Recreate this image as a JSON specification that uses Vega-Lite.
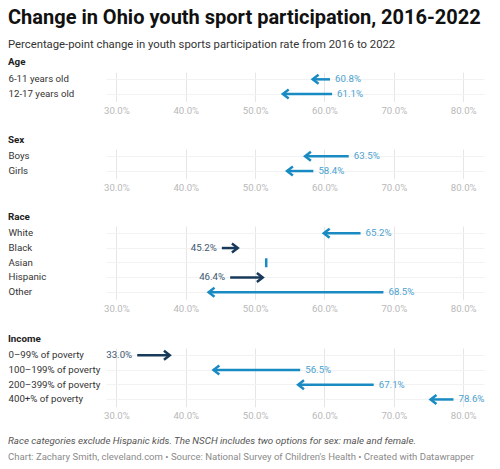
{
  "$schema": "https://vega.github.io/schema/vega-lite/v6.json",
  "padding": {"left": 8, "top": 7, "right": 10, "bottom": 4},
  "background": "white",
  "title": {
    "text": "Change in Ohio youth sport participation, 2016-2022",
    "subtitle": "Percentage-point change in youth sports participation rate from 2016 to 2022",
    "anchor": "start",
    "frame": "bounds",
    "font": "Roboto",
    "fontSize": 20,
    "fontWeight": "bold",
    "color": "#111111",
    "subtitleFont": "Roboto",
    "subtitleFontSize": 11.3,
    "subtitleColor": "#333333",
    "subtitlePadding": 11,
    "offset": 7
  },
  "data": {
    "values": [
      {"group": "Age", "category": "6-11 years old", "start": 0.608, "end": 0.583, "change": "down"},
      {"group": "Age", "category": "12-17 years old", "start": 0.611, "end": 0.540, "change": "down"},
      {"group": "Sex", "category": "Boys", "start": 0.635, "end": 0.572, "change": "down"},
      {"group": "Sex", "category": "Girls", "start": 0.584, "end": 0.546, "change": "down"},
      {"group": "Race", "category": "White", "start": 0.652, "end": 0.599, "change": "down"},
      {"group": "Race", "category": "Black", "start": 0.452, "end": 0.475, "change": "up"},
      {"group": "Race", "category": "Asian", "start": 0.516, "end": 0.516, "change": "none"},
      {"group": "Race", "category": "Hispanic", "start": 0.464, "end": 0.511, "change": "up"},
      {"group": "Race", "category": "Other", "start": 0.685, "end": 0.433, "change": "down"},
      {"group": "Income", "category": "0–99% of poverty", "start": 0.330, "end": 0.377, "change": "up"},
      {"group": "Income", "category": "100–199% of poverty", "start": 0.565, "end": 0.440, "change": "down"},
      {"group": "Income", "category": "200–399% of poverty", "start": 0.671, "end": 0.562, "change": "down"},
      {"group": "Income", "category": "400+% of poverty", "start": 0.786, "end": 0.753, "change": "down"}
    ]
  },
  "spacing": 15,
  "vconcat": [
    {
      "spacing": 20,
      "vconcat": [
        {
          "title": {"text": "Age", "offset": 3},
          "width": 378,
          "height": 29.4,
          "transform": [{"filter": "datum.group == 'Age'"}],
          "encoding": {"y": {"field": "category", "type": "nominal", "sort": null, "axis": {"title": null}}},
          "layer": [
            {"mark": {"type": "rule", "strokeWidth": 2.5}, "encoding": {"x": {"field": "start", "type": "quantitative", "scale": {"domain": [0.285, 0.83], "nice": false}, "axis": {"title": null, "format": ".1%", "values": [0.3, 0.4, 0.5, 0.6, 0.7, 0.8]}}, "x2": {"field": "end"}, "color": {"field": "change", "type": "nominal", "scale": {"domain": ["down", "up", "none"], "range": ["#1a8bc2", "#183a5a", "#1a8bc2"]}, "legend": null}}},
            {"mark": {"type": "point", "filled": false, "strokeWidth": 2.5, "size": 81, "opacity": 1}, "encoding": {"x": {"field": "end", "type": "quantitative"}, "shape": {"field": "change", "type": "nominal", "scale": {"domain": ["down", "up", "none"], "range": ["M1.3,-1L0,0L1.3,1", "M-1.3,-1L0,0L-1.3,1", "M0,-1L0,1"]}, "legend": null}, "color": {"field": "change", "type": "nominal", "legend": null}}},
            {"transform": [{"filter": "datum.change == 'down'"}], "mark": {"type": "text", "align": "left", "dx": 5, "fontSize": 9.7, "color": "#4ba2cf"}, "encoding": {"x": {"field": "start", "type": "quantitative"}, "text": {"field": "start", "type": "quantitative", "format": ".1%"}}},
            {"transform": [{"filter": "datum.change == 'up'"}], "mark": {"type": "text", "align": "right", "dx": -5, "fontSize": 9.7, "color": "#3d5872"}, "encoding": {"x": {"field": "start", "type": "quantitative"}, "text": {"field": "start", "type": "quantitative", "format": ".1%"}}}
          ]
        },
        {
          "title": {"text": "Sex"},
          "width": 378,
          "height": 29.4,
          "transform": [{"filter": "datum.group == 'Sex'"}],
          "encoding": {"y": {"field": "category", "type": "nominal", "sort": null, "axis": {"title": null}}},
          "layer": [
            {"mark": {"type": "rule", "strokeWidth": 2.5}, "encoding": {"x": {"field": "start", "type": "quantitative", "scale": {"domain": [0.285, 0.83], "nice": false}, "axis": {"title": null, "format": ".1%", "values": [0.3, 0.4, 0.5, 0.6, 0.7, 0.8]}}, "x2": {"field": "end"}, "color": {"field": "change", "type": "nominal", "scale": {"domain": ["down", "up", "none"], "range": ["#1a8bc2", "#183a5a", "#1a8bc2"]}, "legend": null}}},
            {"mark": {"type": "point", "filled": false, "strokeWidth": 2.5, "size": 81, "opacity": 1}, "encoding": {"x": {"field": "end", "type": "quantitative"}, "shape": {"field": "change", "type": "nominal", "scale": {"domain": ["down", "up", "none"], "range": ["M1.3,-1L0,0L1.3,1", "M-1.3,-1L0,0L-1.3,1", "M0,-1L0,1"]}, "legend": null}, "color": {"field": "change", "type": "nominal", "legend": null}}},
            {"transform": [{"filter": "datum.change == 'down'"}], "mark": {"type": "text", "align": "left", "dx": 5, "fontSize": 9.7, "color": "#4ba2cf"}, "encoding": {"x": {"field": "start", "type": "quantitative"}, "text": {"field": "start", "type": "quantitative", "format": ".1%"}}},
            {"transform": [{"filter": "datum.change == 'up'"}], "mark": {"type": "text", "align": "right", "dx": -5, "fontSize": 9.7, "color": "#3d5872"}, "encoding": {"x": {"field": "start", "type": "quantitative"}, "text": {"field": "start", "type": "quantitative", "format": ".1%"}}}
          ]
        },
        {
          "title": {"text": "Race"},
          "width": 378,
          "height": 73.5,
          "transform": [{"filter": "datum.group == 'Race'"}],
          "encoding": {"y": {"field": "category", "type": "nominal", "sort": null, "axis": {"title": null}}},
          "layer": [
            {"mark": {"type": "rule", "strokeWidth": 2.5}, "encoding": {"x": {"field": "start", "type": "quantitative", "scale": {"domain": [0.285, 0.83], "nice": false}, "axis": {"title": null, "format": ".1%", "values": [0.3, 0.4, 0.5, 0.6, 0.7, 0.8]}}, "x2": {"field": "end"}, "color": {"field": "change", "type": "nominal", "scale": {"domain": ["down", "up", "none"], "range": ["#1a8bc2", "#183a5a", "#1a8bc2"]}, "legend": null}}},
            {"mark": {"type": "point", "filled": false, "strokeWidth": 2.5, "size": 81, "opacity": 1}, "encoding": {"x": {"field": "end", "type": "quantitative"}, "shape": {"field": "change", "type": "nominal", "scale": {"domain": ["down", "up", "none"], "range": ["M1.3,-1L0,0L1.3,1", "M-1.3,-1L0,0L-1.3,1", "M0,-1L0,1"]}, "legend": null}, "color": {"field": "change", "type": "nominal", "legend": null}}},
            {"transform": [{"filter": "datum.change == 'down'"}], "mark": {"type": "text", "align": "left", "dx": 5, "fontSize": 9.7, "color": "#4ba2cf"}, "encoding": {"x": {"field": "start", "type": "quantitative"}, "text": {"field": "start", "type": "quantitative", "format": ".1%"}}},
            {"transform": [{"filter": "datum.change == 'up'"}], "mark": {"type": "text", "align": "right", "dx": -5, "fontSize": 9.7, "color": "#3d5872"}, "encoding": {"x": {"field": "start", "type": "quantitative"}, "text": {"field": "start", "type": "quantitative", "format": ".1%"}}}
          ]
        },
        {
          "title": {"text": "Income"},
          "width": 378,
          "height": 58.8,
          "transform": [{"filter": "datum.group == 'Income'"}],
          "encoding": {"y": {"field": "category", "type": "nominal", "sort": null, "axis": {"title": null}}},
          "layer": [
            {"mark": {"type": "rule", "strokeWidth": 2.5}, "encoding": {"x": {"field": "start", "type": "quantitative", "scale": {"domain": [0.285, 0.83], "nice": false}, "axis": {"title": null, "format": ".1%", "values": [0.3, 0.4, 0.5, 0.6, 0.7, 0.8]}}, "x2": {"field": "end"}, "color": {"field": "change", "type": "nominal", "scale": {"domain": ["down", "up", "none"], "range": ["#1a8bc2", "#183a5a", "#1a8bc2"]}, "legend": null}}},
            {"mark": {"type": "point", "filled": false, "strokeWidth": 2.5, "size": 81, "opacity": 1}, "encoding": {"x": {"field": "end", "type": "quantitative"}, "shape": {"field": "change", "type": "nominal", "scale": {"domain": ["down", "up", "none"], "range": ["M1.3,-1L0,0L1.3,1", "M-1.3,-1L0,0L-1.3,1", "M0,-1L0,1"]}, "legend": null}, "color": {"field": "change", "type": "nominal", "legend": null}}},
            {"transform": [{"filter": "datum.change == 'down'"}], "mark": {"type": "text", "align": "left", "dx": 5, "fontSize": 9.7, "color": "#4ba2cf"}, "encoding": {"x": {"field": "start", "type": "quantitative"}, "text": {"field": "start", "type": "quantitative", "format": ".1%"}}},
            {"transform": [{"filter": "datum.change == 'up'"}], "mark": {"type": "text", "align": "right", "dx": -5, "fontSize": 9.7, "color": "#3d5872"}, "encoding": {"x": {"field": "start", "type": "quantitative"}, "text": {"field": "start", "type": "quantitative", "format": ".1%"}}}
          ]
        }
      ]
    },
    {
      "width": 378,
      "height": 1,
      "title": {
        "text": "Race categories exclude Hispanic kids. The NSCH includes two options for sex: male and female.",
        "subtitle": "Chart: Zachary Smith, cleveland.com • Source: National Survey of Children's Health • Created with Datawrapper",
        "anchor": "start",
        "frame": "group",
        "dx": -98,
        "fontSize": 9.75,
        "fontStyle": "italic",
        "fontWeight": "normal",
        "color": "#555555",
        "subtitleFontSize": 9.55,
        "subtitleColor": "#8a8a8a",
        "subtitlePadding": 6,
        "offset": 0
      },
      "mark": {"type": "rule", "opacity": 0},
      "encoding": {}
    }
  ],
  "config": {
    "font": "Roboto",
    "view": {"stroke": null},
    "title": {"anchor": "start", "frame": "bounds", "fontSize": 9.8, "fontWeight": "bold", "color": "#222222", "offset": 2},
    "axisX": {"domain": false, "ticks": false, "tickSize": 0, "labelPadding": 4, "labelColor": "#b8b8b8", "labelFontSize": 9.6, "grid": true, "gridColor": "#e6e6e6"},
    "axisY": {"domain": false, "ticks": false, "tickSize": 0, "labelAlign": "left", "labelPadding": 98, "labelColor": "#333333", "labelFontSize": 9.7, "grid": true, "gridColor": "#f2f2f2"},
    "text": {"font": "Roboto"}
  }
}
